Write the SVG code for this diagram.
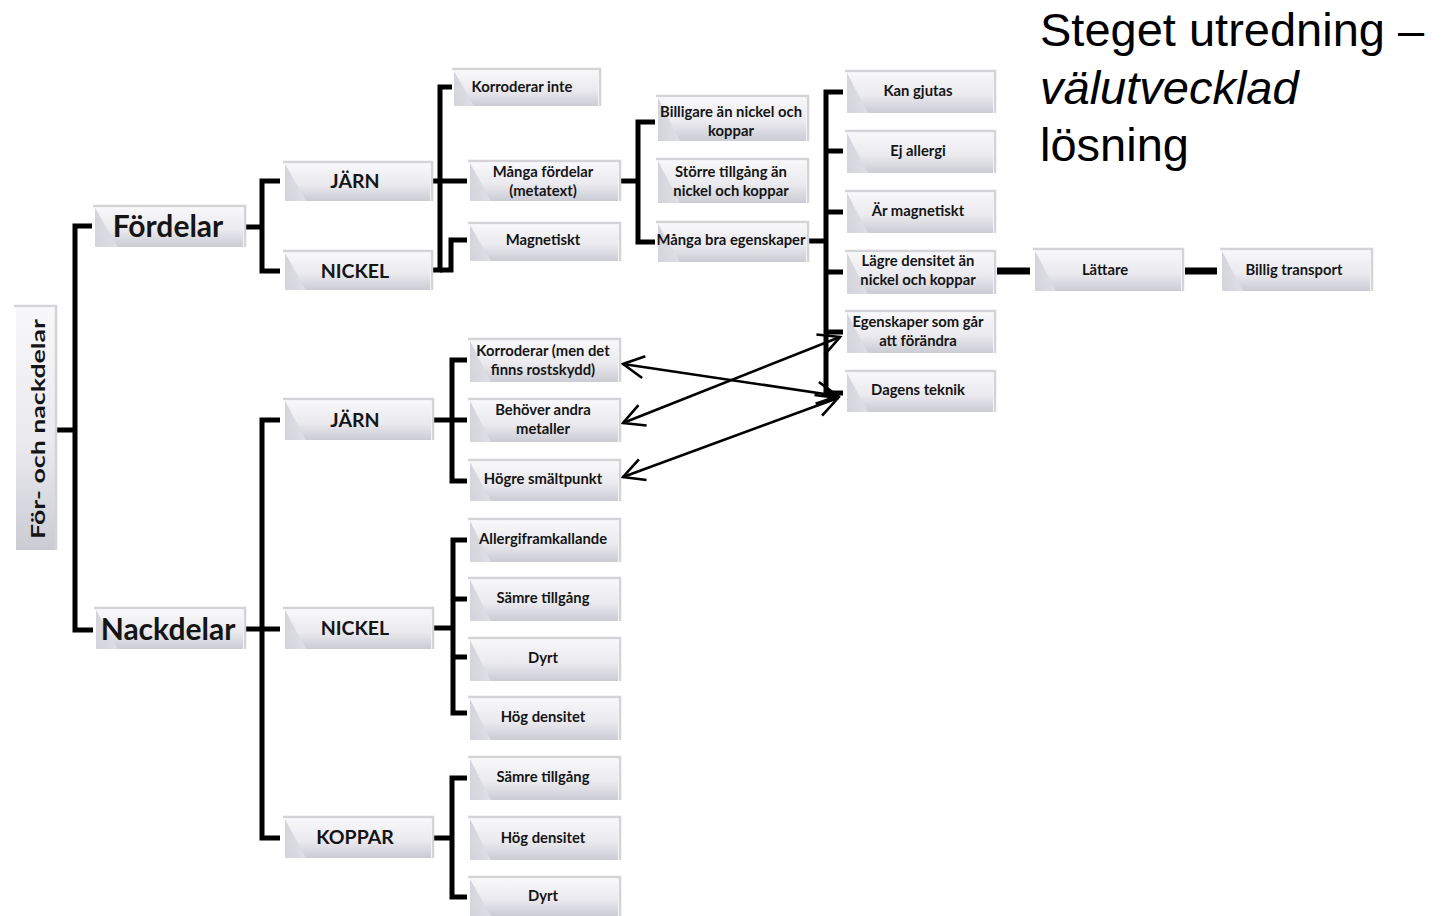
<svg xmlns="http://www.w3.org/2000/svg" width="1441" height="916" viewBox="0 0 1441 916">
  <defs>
    <linearGradient id="boxFill" x1="0" y1="0" x2="0" y2="1">
      <stop offset="0" stop-color="#f8f8fa"/>
      <stop offset="0.55" stop-color="#eaeaef"/>
      <stop offset="1" stop-color="#cbcbd4"/>
    </linearGradient>
    <linearGradient id="wedgeFill" x1="0" y1="0" x2="1" y2="1">
      <stop offset="0" stop-color="#c6c6cf"/>
      <stop offset="1" stop-color="#e4e4ea"/>
    </linearGradient>
    <marker id="vhead" viewBox="0 0 26 26" refX="23" refY="13" markerWidth="26" markerHeight="26" markerUnits="userSpaceOnUse" orient="auto-start-reverse">
      <path d="M2,2 L23,13 L2,24" fill="none" stroke="#000" stroke-width="2.6"/>
    </marker>
  </defs>
  <style>
    .bx { fill: url(#boxFill); }
    .rim { fill: none; stroke: #d4d4d8; stroke-width: 2.5; }
    .wedge { fill: url(#wedgeFill); opacity: 0.75; }
    .t { font-family: Lato, "Liberation Sans", sans-serif; font-weight: 700; font-size: 14.8px; fill: #151515; text-anchor: middle; }
    .t2 { font-family: Lato, "Liberation Sans", sans-serif; font-weight: 700; font-size: 19.5px; fill: #151515; text-anchor: middle; }
    .t3 { font-family: Lato, "Liberation Sans", sans-serif; font-weight: 700; font-size: 30px; fill: #151515; text-anchor: middle; }
    .title { font-family: "Liberation Sans", Arial, sans-serif; font-size: 47px; fill: #000; }
    .ln { fill: none; stroke: #000; stroke-width: 5; stroke-linejoin: miter; }
    .ln7 { fill: none; stroke: #000; stroke-width: 7; }
    .arr { fill: none; stroke: #000; stroke-width: 2.6; marker-start: url(#vhead); marker-end: url(#vhead); }
  </style>

  <rect width="1441" height="916" fill="#fff"/>

  <!-- heading -->
  <g id="heading">
    <text class="title" x="1040" y="46">Steget utredning –</text>
    <text class="title" x="1040" y="104" font-style="italic">välutvecklad</text>
    <text class="title" x="1040" y="161">lösning</text>
  </g>

  <!-- tree connectors and cross links -->
  <g id="connectors">
    <path class="ln" d="M57,430 H75"/>
    <path class="ln" d="M92,226 H75 V630 H93"/>
    <path class="ln" d="M246,227 H262"/>
    <path class="ln" d="M280,181 H262 V271 H280"/>
    <path class="ln" d="M452,87 H440 V270 H433"/>
    <path class="ln" d="M433,181 H467"/>
    <path class="ln" d="M440,270 H451 V240 H467"/>
    <path class="ln" d="M621,181 H638"/>
    <path class="ln" d="M655,122 H638 V242 H655"/>
    <path class="ln" d="M807,241 H826"/>
    <path class="ln" d="M843,92 H826 V396"/>
    <path class="ln" d="M826,151 H843 M826,212 H843 M826,272 H843 M826,332 H843 M826,393 H843"/>
    <path class="ln7" d="M997,271 H1030"/>
    <path class="ln7" d="M1185,271 H1217"/>
    <path class="ln" d="M246,629 H280"/>
    <path class="ln" d="M280,420 H262 V838 H280"/>
    <path class="ln" d="M434,420 H467"/>
    <path class="ln" d="M467,360 H452 V481 H467"/>
    <path class="ln" d="M434,628 H453"/>
    <path class="ln" d="M467,540 H453 V713 H467"/>
    <path class="ln" d="M453,599 H467 M453,657 H467"/>
    <path class="ln" d="M434,838 H453"/>
    <path class="ln" d="M467,778 H452 V897 H467"/>
    <path class="arr" d="M838,396 L623,364"/>
    <path class="arr" d="M840,337 L623,423"/>
    <path class="arr" d="M838,398 L623,477"/>
  </g>

  <!-- root -->
  <g id="n-root">
    <rect class="bx" x="16" y="308" width="39" height="242"/>
    <path class="rim" d="M14,306 H56 V550"/>
    <text class="t2" transform="translate(37,429) rotate(-90)" y="8" font-size="23" textLength="220" lengthAdjust="spacingAndGlyphs">För- och nackdelar</text>
  </g>

  <g id="n-fordelar">
    <rect class="bx" x="95" y="208" width="148" height="39"/>
    <path class="wedge" d="M95,208 L118,247 L95,247 Z"/>
    <path class="rim" d="M93,206 H245 V247"/>
    <text class="t3" x="168" y="237">Fördelar</text>
  </g>
  <g id="n-jarn1">
    <rect class="bx" x="285" y="164" width="145" height="37"/>
    <path class="wedge" d="M285,164 L306,201 L285,201 Z"/>
    <path class="rim" d="M283,162 H432 V201"/>
    <text class="t2" x="355" y="188">JÄRN</text>
  </g>
  <g id="n-nickel1">
    <rect class="bx" x="285" y="253" width="145" height="37"/>
    <path class="wedge" d="M285,253 L306,290 L285,290 Z"/>
    <path class="rim" d="M283,251 H432 V290"/>
    <text class="t2" x="355" y="278">NICKEL</text>
  </g>

  <g id="n-korroderar-inte">
    <rect class="bx" x="454" y="71" width="144" height="35"/>
    <path class="wedge" d="M454,71 L474,106 L454,106 Z"/>
    <path class="rim" d="M452,69 H600 V106"/>
    <text class="t" x="522" y="92">Korroderar inte</text>
  </g>
  <g id="n-manga-fordelar">
    <rect class="bx" x="470" y="163" width="148" height="38"/>
    <path class="wedge" d="M470,163 L491,201 L470,201 Z"/>
    <path class="rim" d="M468,161 H620 V201"/>
    <text class="t" x="543" y="177">Många fördelar</text>
    <text class="t" x="543" y="196">(metatext)</text>
  </g>
  <g id="n-magnetiskt">
    <rect class="bx" x="470" y="225" width="148" height="36"/>
    <path class="wedge" d="M470,225 L491,261 L470,261 Z"/>
    <path class="rim" d="M468,223 H620 V261"/>
    <text class="t" x="543" y="245">Magnetiskt</text>
  </g>

  <g id="n-billigare">
    <rect class="bx" x="658" y="98" width="148" height="43"/>
    <path class="wedge" d="M658,98 L680,141 L658,141 Z"/>
    <path class="rim" d="M656,96 H808 V141"/>
    <text class="t" x="731" y="117">Billigare än nickel och</text>
    <text class="t" x="731" y="136">koppar</text>
  </g>
  <g id="n-storre">
    <rect class="bx" x="658" y="161" width="148" height="42"/>
    <path class="wedge" d="M658,161 L680,203 L658,203 Z"/>
    <path class="rim" d="M656,159 H808 V203"/>
    <text class="t" x="731" y="177">Större tillgång än</text>
    <text class="t" x="731" y="196">nickel och koppar</text>
  </g>
  <g id="n-manga-bra">
    <rect class="bx" x="658" y="224" width="148" height="38"/>
    <path class="wedge" d="M658,224 L680,262 L658,262 Z"/>
    <path class="rim" d="M656,222 H808 V262"/>
    <text class="t" x="731" y="245">Många bra egenskaper</text>
  </g>

  <g id="n-kan-gjutas">
    <rect class="bx" x="847" y="73" width="146" height="40"/>
    <path class="wedge" d="M847,73 L868,113 L847,113 Z"/>
    <path class="rim" d="M845,71 H995 V113"/>
    <text class="t" x="918" y="96">Kan gjutas</text>
  </g>
  <g id="n-ej-allergi">
    <rect class="bx" x="847" y="133" width="146" height="40"/>
    <path class="wedge" d="M847,133 L868,173 L847,173 Z"/>
    <path class="rim" d="M845,131 H995 V173"/>
    <text class="t" x="918" y="156">Ej allergi</text>
  </g>
  <g id="n-ar-magnetiskt">
    <rect class="bx" x="847" y="193" width="146" height="40"/>
    <path class="wedge" d="M847,193 L868,233 L847,233 Z"/>
    <path class="rim" d="M845,191 H995 V233"/>
    <text class="t" x="918" y="216">Är magnetiskt</text>
  </g>
  <g id="n-lagre-densitet">
    <rect class="bx" x="847" y="253" width="146" height="41"/>
    <path class="wedge" d="M847,253 L868,294 L847,294 Z"/>
    <path class="rim" d="M845,251 H995 V294"/>
    <text class="t" x="918" y="266">Lägre densitet än</text>
    <text class="t" x="918" y="285">nickel och koppar</text>
  </g>
  <g id="n-egenskaper">
    <rect class="bx" x="847" y="313" width="146" height="40"/>
    <path class="wedge" d="M847,313 L868,353 L847,353 Z"/>
    <path class="rim" d="M845,311 H995 V353"/>
    <text class="t" x="918" y="327">Egenskaper  som går</text>
    <text class="t" x="918" y="346">att förändra</text>
  </g>
  <g id="n-dagens-teknik">
    <rect class="bx" x="847" y="373" width="146" height="39"/>
    <path class="wedge" d="M847,373 L868,412 L847,412 Z"/>
    <path class="rim" d="M845,371 H995 V412"/>
    <text class="t" x="918" y="395">Dagens  teknik</text>
  </g>

  <g id="n-lattare">
    <rect class="bx" x="1035" y="251" width="146" height="40"/>
    <path class="wedge" d="M1035,251 L1056,291 L1035,291 Z"/>
    <path class="rim" d="M1033,249 H1183 V291"/>
    <text class="t" x="1105" y="275">Lättare</text>
  </g>
  <g id="n-billig-transport">
    <rect class="bx" x="1222" y="251" width="148" height="40"/>
    <path class="wedge" d="M1222,251 L1243,291 L1222,291 Z"/>
    <path class="rim" d="M1220,249 H1372 V291"/>
    <text class="t" x="1294" y="275">Billig transport</text>
  </g>

  <g id="n-nackdelar">
    <rect class="bx" x="96" y="610" width="147" height="39"/>
    <path class="wedge" d="M96,610 L118,649 L96,649 Z"/>
    <path class="rim" d="M94,608 H245 V649"/>
    <text class="t3" x="168" y="640">Nackdelar</text>
  </g>
  <g id="n-jarn2">
    <rect class="bx" x="285" y="401" width="146" height="39"/>
    <path class="wedge" d="M285,401 L306,440 L285,440 Z"/>
    <path class="rim" d="M283,399 H433 V440"/>
    <text class="t2" x="355" y="427">JÄRN</text>
  </g>
  <g id="n-nickel2">
    <rect class="bx" x="285" y="610" width="146" height="39"/>
    <path class="wedge" d="M285,610 L306,649 L285,649 Z"/>
    <path class="rim" d="M283,608 H433 V649"/>
    <text class="t2" x="355" y="635">NICKEL</text>
  </g>
  <g id="n-koppar">
    <rect class="bx" x="285" y="819" width="146" height="39"/>
    <path class="wedge" d="M285,819 L306,858 L285,858 Z"/>
    <path class="rim" d="M283,817 H433 V858"/>
    <text class="t2" x="355" y="844" font-size="20.5">KOPPAR</text>
  </g>

  <g id="n-korroderar">
    <rect class="bx" x="470" y="341" width="148" height="41"/>
    <path class="wedge" d="M470,341 L491,382 L470,382 Z"/>
    <path class="rim" d="M468,339 H620 V382"/>
    <text class="t" x="543" y="356">Korroderar (men det</text>
    <text class="t" x="543" y="375">finns rostskydd)</text>
  </g>
  <g id="n-behover">
    <rect class="bx" x="470" y="401" width="148" height="41"/>
    <path class="wedge" d="M470,401 L491,442 L470,442 Z"/>
    <path class="rim" d="M468,399 H620 V442"/>
    <text class="t" x="543" y="415">Behöver andra</text>
    <text class="t" x="543" y="434">metaller</text>
  </g>
  <g id="n-hogre">
    <rect class="bx" x="470" y="462" width="148" height="39"/>
    <path class="wedge" d="M470,462 L491,501 L470,501 Z"/>
    <path class="rim" d="M468,460 H620 V501"/>
    <text class="t" x="543" y="484">Högre smältpunkt</text>
  </g>

  <g id="n-allergi">
    <rect class="bx" x="470" y="521" width="148" height="41"/>
    <path class="wedge" d="M470,521 L491,562 L470,562 Z"/>
    <path class="rim" d="M468,519 H620 V562"/>
    <text class="t" x="543" y="544">Allergiframkallande</text>
  </g>
  <g id="n-samre-nickel">
    <rect class="bx" x="470" y="580" width="148" height="41"/>
    <path class="wedge" d="M470,580 L491,621 L470,621 Z"/>
    <path class="rim" d="M468,578 H620 V621"/>
    <text class="t" x="543" y="603">Sämre tillgång</text>
  </g>
  <g id="n-dyrt-nickel">
    <rect class="bx" x="470" y="640" width="148" height="41"/>
    <path class="wedge" d="M470,640 L491,681 L470,681 Z"/>
    <path class="rim" d="M468,638 H620 V681"/>
    <text class="t" x="543" y="663">Dyrt</text>
  </g>
  <g id="n-hog-nickel">
    <rect class="bx" x="470" y="699" width="148" height="41"/>
    <path class="wedge" d="M470,699 L491,740 L470,740 Z"/>
    <path class="rim" d="M468,697 H620 V740"/>
    <text class="t" x="543" y="722">Hög densitet</text>
  </g>

  <g id="n-samre-koppar">
    <rect class="bx" x="470" y="759" width="148" height="41"/>
    <path class="wedge" d="M470,759 L491,800 L470,800 Z"/>
    <path class="rim" d="M468,757 H620 V800"/>
    <text class="t" x="543" y="782">Sämre tillgång</text>
  </g>
  <g id="n-hog-koppar">
    <rect class="bx" x="470" y="819" width="148" height="41"/>
    <path class="wedge" d="M470,819 L491,860 L470,860 Z"/>
    <path class="rim" d="M468,817 H620 V860"/>
    <text class="t" x="543" y="843">Hög densitet</text>
  </g>
  <g id="n-dyrt-koppar">
    <rect class="bx" x="470" y="879" width="148" height="37"/>
    <path class="wedge" d="M470,879 L491,916 L470,916 Z"/>
    <path class="rim" d="M468,877 H620 V916"/>
    <text class="t" x="543" y="901">Dyrt</text>
  </g>
</svg>
